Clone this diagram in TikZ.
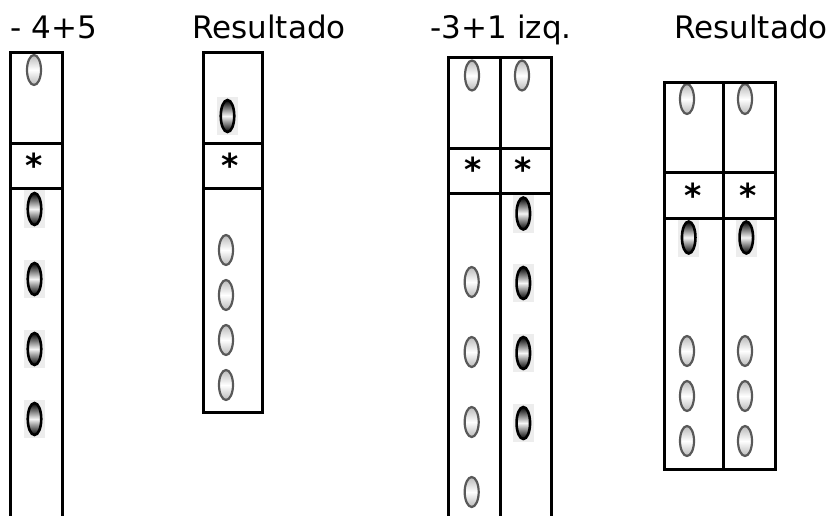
\documentclass[tikz,border=0pt]{standalone}
\usepackage{fontspec}
\setmainfont{DejaVu Sans}
\usetikzlibrary{shapes.geometric}
\tikzset{
  frame/.style={line width=3pt, line cap=rect},
  title/.style={anchor=base west, inner sep=0pt, font=\fontsize{31}{36}\selectfont},
  star/.style={anchor=base, inner sep=0pt, font=\fontsize{33}{38}\selectfont\bfseries},
  lbead/.style={ellipse, inner sep=0pt, minimum width=14pt, minimum height=30pt,
    draw=black!65, line width=2.2pt, top color=gray!55, bottom color=gray!55, middle color=white},
  dbg/.style={rectangle, inner sep=0pt, minimum width=21pt, minimum height=38pt, fill=gray!14},
  dbead/.style={ellipse, inner sep=0pt, minimum width=13.5pt, minimum height=32pt,
    draw=black, line width=2.6pt, top color=black, bottom color=black, middle color=gray!8},
}
\newcommand{\lb}[3]{\node[lbead] (#1) at (#2,#3) {};}
\newcommand{\db}[3]{\node[dbg] (#1bg) at (#2,#3) {};\node[dbead] (#1) at (#2,#3) {};}
\begin{document}
\begin{tikzpicture}[x=1pt,y=-1pt]
\useasboundingbox (0,0) rectangle (829,515);
% titles
\node[title] (t1) at (10.5,38.5) {- 4+5};
\node[title] (t2) at (192,38.5) {Resultado};
\node[title] (t3) at (430.5,38.5) {-3+1 izq.};
\node[title] (t4) at (674,38.5) {Resultado};
% panel 1 beads
\lb{a1}{34}{70}
\db{a2}{34.5}{209}
\db{a3}{34.5}{279}
\db{a4}{34.5}{349}
\db{a5}{34.5}{419}
% panel 2 beads
\db{b1}{227.5}{116}
\lb{b2}{226}{250}
\lb{b3}{226}{295}
\lb{b4}{226}{340}
\lb{b5}{226}{385}
% panel 3 beads
\lb{c1}{472}{75.5}
\lb{c2}{522}{75.5}
\db{c3}{523.3}{213.5}
\db{c4}{523.3}{283}
\db{c5}{523.3}{353}
\db{c6}{523.3}{423}
\lb{c7}{471.7}{282}
\lb{c8}{471.7}{352}
\lb{c9}{471.7}{422}
\lb{c10}{471.7}{492}
% panel 4 beads
\lb{d1}{687}{99}
\lb{d2}{745}{99}
\db{d3}{688.7}{237.5}
\db{d4}{746.3}{237.5}
\lb{d5}{687}{351}
\lb{d6}{745}{351}
\lb{d7}{687}{396}
\lb{d8}{745}{396}
\lb{d9}{687}{441}
\lb{d10}{745}{441}
% asterisks
\node[star] (s1) at (34.5,177.5) {*};
\node[star] (s2) at (230.5,177.5) {*};
\node[star] (s3) at (473,181.5) {*};
\node[star] (s4) at (523.5,181.5) {*};
\node[star] (s5) at (693,207) {*};
\node[star] (s6) at (748,207) {*};
% frames
\draw[frame] (10,516) -- (10,52) -- (62,52) -- (62,516);
\draw[frame] (10,143) -- (62,143) (10,188) -- (62,188);
\draw[frame] (203,52) rectangle (262,412);
\draw[frame] (203,143) -- (262,143) (203,188) -- (262,188);
\draw[frame] (448,516) -- (448,57) -- (551,57) -- (551,516);
\draw[frame] (500,57) -- (500,516);
\draw[frame] (448,148) -- (551,148) (448,193) -- (551,193);
\draw[frame] (664,82) rectangle (775,469);
\draw[frame] (723,82) -- (723,469);
\draw[frame] (664,172) -- (775,172) (664,218) -- (775,218);
\end{tikzpicture}
\end{document}
